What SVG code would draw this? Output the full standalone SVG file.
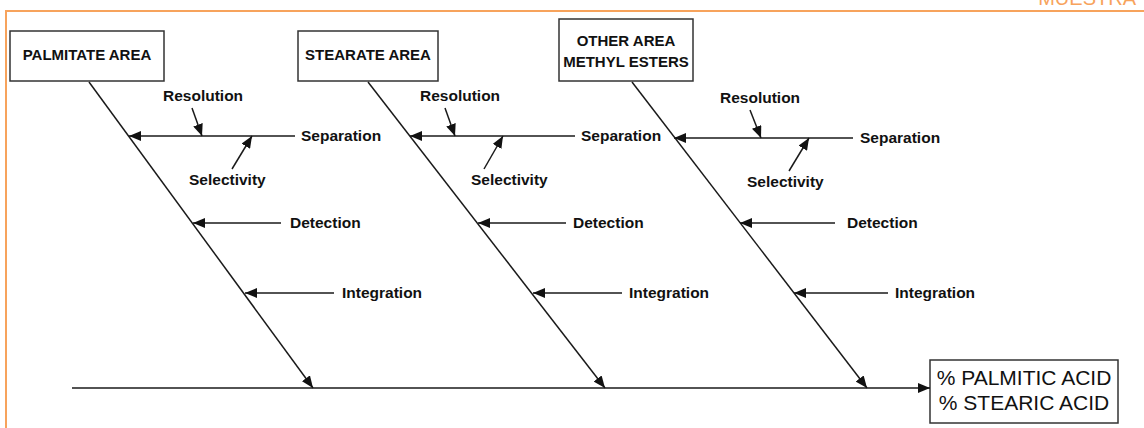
<svg xmlns="http://www.w3.org/2000/svg" width="1144" height="428" viewBox="0 0 1144 428">
  <defs>
    <marker id="arrow" markerUnits="userSpaceOnUse" markerWidth="12" markerHeight="10" viewBox="0 0 12 10" refX="12" refY="5" orient="auto">
      <path d="M0,0 L12,5 L0,10 Z" fill="#111"/>
    </marker>
  </defs>
  <style>
    .frame { stroke: #f7a35c; stroke-width: 2; fill: none; }
    .box { fill: #fff; stroke: #333; stroke-width: 1.5; }
    .line { stroke: #1a1a1a; stroke-width: 1.5; fill: none; }
    .arr { stroke: #1a1a1a; stroke-width: 1.5; fill: none; marker-end: url(#arrow); }
    .head { font-family: "Liberation Sans", Arial, sans-serif; font-weight: bold; font-size: 15px; fill: #111; text-anchor: middle; }
    .lbl { font-family: "Liberation Sans", Arial, sans-serif; font-weight: bold; font-size: 15.5px; fill: #111; }
    .res { font-family: "Liberation Sans", Arial, sans-serif; font-size: 21px; fill: #111; text-anchor: middle; }
    .tag { font-family: "Liberation Sans", Arial, sans-serif; font-size: 20px; fill: #f7a35c; }
  </style>

  <rect width="1144" height="428" fill="#fff"/>

  <!-- page frame -->
  <g id="frame">
    <path class="frame" d="M6,428 V11 H1144"/>
    <text class="tag" x="1136" y="5" text-anchor="end">MUESTRA</text>
  </g>

  <!-- cause heads -->
  <g id="node-palmitate">
    <rect class="box" x="10" y="31" width="154" height="50"/>
    <text class="head" x="87" y="60">PALMITATE AREA</text>
  </g>
  <g id="node-stearate">
    <rect class="box" x="298" y="31" width="140" height="50"/>
    <text class="head" x="368" y="60">STEARATE AREA</text>
  </g>
  <g id="node-other">
    <rect class="box" x="559" y="19" width="134" height="62"/>
    <text class="head" x="626" y="46">OTHER AREA</text>
    <text class="head" x="626" y="67">METHYL ESTERS</text>
  </g>

  <!-- effect -->
  <g id="node-result">
    <rect class="box" x="930" y="360" width="188" height="63"/>
    <text class="res" x="1024" y="385">% PALMITIC ACID</text>
    <text class="res" x="1024" y="410">% STEARIC ACID</text>
  </g>

  <!-- branch labels -->
  <g id="labels">
    <text class="lbl" x="163" y="101">Resolution</text>
    <text class="lbl" x="301" y="141">Separation</text>
    <text class="lbl" x="189" y="185">Selectivity</text>
    <text class="lbl" x="290" y="228">Detection</text>
    <text class="lbl" x="342" y="298">Integration</text>

    <text class="lbl" x="420" y="101">Resolution</text>
    <text class="lbl" x="581" y="141">Separation</text>
    <text class="lbl" x="471" y="185">Selectivity</text>
    <text class="lbl" x="573" y="228">Detection</text>
    <text class="lbl" x="629" y="298">Integration</text>

    <text class="lbl" x="720" y="103">Resolution</text>
    <text class="lbl" x="860" y="143">Separation</text>
    <text class="lbl" x="747" y="187">Selectivity</text>
    <text class="lbl" x="847" y="228">Detection</text>
    <text class="lbl" x="895" y="298">Integration</text>
  </g>

  <!-- connectors -->
  <g id="connectors">
    <!-- spine -->
    <line class="arr" x1="72" y1="388" x2="930" y2="388"/>

    <!-- main bones -->
    <line class="arr" x1="89" y1="82" x2="313" y2="388"/>
    <line class="arr" x1="368" y1="82" x2="605" y2="388"/>
    <line class="arr" x1="632" y1="82" x2="867" y2="388"/>

    <!-- palmitate branches -->
    <line class="arr" x1="295" y1="136" x2="129" y2="136"/>
    <line class="arr" x1="192" y1="108" x2="202" y2="136"/>
    <line class="arr" x1="232" y1="169" x2="252" y2="136"/>
    <line class="arr" x1="281" y1="223" x2="193" y2="223"/>
    <line class="arr" x1="334" y1="293" x2="245" y2="293"/>

    <!-- stearate branches -->
    <line class="arr" x1="575" y1="136" x2="410" y2="136"/>
    <line class="arr" x1="445" y1="108" x2="455" y2="136"/>
    <line class="arr" x1="484" y1="169" x2="503" y2="136"/>
    <line class="arr" x1="566" y1="223" x2="478" y2="223"/>
    <line class="arr" x1="622" y1="293" x2="533" y2="293"/>

    <!-- other esters branches -->
    <line class="arr" x1="853" y1="138" x2="674" y2="138"/>
    <line class="arr" x1="750" y1="110" x2="761" y2="138"/>
    <line class="arr" x1="789" y1="171" x2="809" y2="138"/>
    <line class="arr" x1="835" y1="223" x2="740" y2="223"/>
    <line class="arr" x1="888" y1="293" x2="794" y2="293"/>
  </g>
</svg>
